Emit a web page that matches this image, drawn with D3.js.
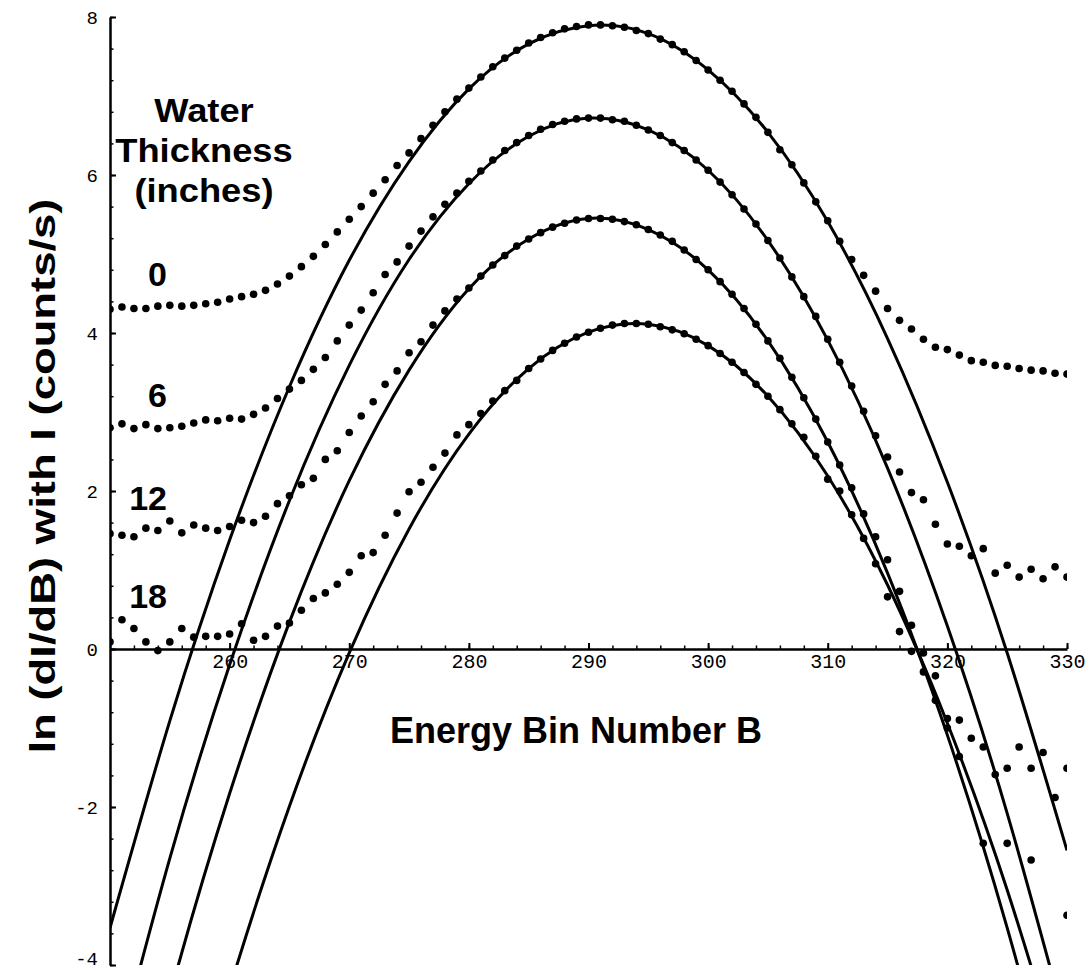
<!DOCTYPE html>
<html>
<head>
<meta charset="utf-8">
<script src="https://cdn.jsdelivr.net/npm/d3@7"></script>
<style>
  body { margin: 0; background: #fff; }
  svg { display: block; }
</style>
</head>
<body>
<svg id="chart"></svg>
<script>
// energy bins on the x axis
const bins = d3.range(250, 331);

// measured ln(dI/dB), one value per bin; null = no point shown
const water0 = [4.30,4.33,4.31,4.31,4.34,4.35,4.34,4.35,4.37,4.39,
  4.43,4.46,4.49,4.54,4.62,4.72,4.84,4.97,5.12,5.28,
  5.44,5.60,5.77,5.94,6.12,6.28,6.46,6.63,6.80,6.96,
  7.10,7.24,7.37,7.48,7.58,7.67,7.74,7.80,7.85,7.88,
  7.90,7.90,7.89,7.87,7.83,7.79,7.72,7.65,7.56,7.45,
  7.33,7.20,7.06,6.90,6.73,6.54,6.32,6.13,5.90,5.66,
  5.42,5.16,4.93,4.73,4.53,4.31,4.16,4.05,3.92,3.82,
  3.79,3.72,3.65,3.63,3.59,3.58,3.55,3.53,3.52,3.49,3.48];
const water6 = [2.80,2.85,2.79,2.84,2.79,2.80,2.82,2.86,2.90,2.89,
  2.92,2.91,2.97,3.05,3.17,3.29,3.40,3.54,3.69,3.90,
  4.10,4.29,4.51,4.74,4.90,5.10,5.29,5.47,5.63,5.77,
  5.92,6.05,6.19,6.31,6.41,6.50,6.58,6.64,6.68,6.71,
  6.72,6.72,6.70,6.68,6.63,6.57,6.50,6.41,6.31,6.19,
  6.06,5.91,5.75,5.57,5.38,5.17,4.95,4.71,4.46,4.21,
  3.92,3.63,3.33,3.01,2.70,2.43,2.24,1.98,1.89,1.58,
  1.33,1.30,1.18,1.27,0.96,1.06,0.91,1.01,0.89,1.04,0.91];
const water12 = [1.46,1.44,1.42,1.53,1.50,1.62,1.47,1.57,1.53,1.50,
  1.55,1.63,1.60,1.68,1.84,1.94,2.08,2.16,2.40,2.51,
  2.74,2.95,3.13,3.35,3.52,3.75,3.89,4.10,4.28,4.43,
  4.57,4.72,4.86,4.98,5.10,5.19,5.27,5.34,5.39,5.43,
  5.45,5.45,5.44,5.41,5.37,5.31,5.24,5.16,5.05,4.93,
  4.80,4.65,4.49,4.31,4.11,3.90,3.68,3.44,3.18,2.91,
  2.62,2.33,2.04,1.71,1.42,1.13,0.73,0.30,-0.05,-0.34,
  -0.88,-0.90,-1.13,-1.24,-1.59,-1.51,-1.24,-1.51,-1.31,-1.88,-1.51];
const water18 = [0.09,0.37,0.26,0.09,-0.02,0.09,0.26,0.15,0.16,0.16,
  0.19,0.32,0.11,0.16,0.29,0.33,0.49,0.64,0.71,0.82,
  0.97,1.18,1.22,1.44,1.72,1.99,2.11,2.30,2.48,2.71,
  2.84,2.98,3.14,3.27,3.40,3.55,3.67,3.78,3.87,3.95,
  4.01,4.06,4.10,4.12,4.12,4.11,4.08,4.04,3.99,3.92,
  3.84,3.74,3.63,3.50,3.35,3.20,3.03,2.85,2.68,2.44,
  2.15,2.00,1.70,1.40,1.08,0.66,0.22,-0.03,-0.29,-0.65,
  -1.00,-1.36,null,-2.46,null,-2.46,null,-2.67,null,null,-3.37];

// fitted curves, read every 5 bins
const fitBins = d3.range(250, 331, 5);
const fit0  = [-3.53,-0.91,1.38,3.32,4.92,6.17,7.09,7.66,7.89,7.79,7.33,6.54,5.41,3.93,2.11,-0.05,-2.55];
const fit6  = [-5.48,-2.65,-0.20,1.88,3.59,4.93,5.89,6.49,6.72,6.57,6.06,5.17,3.91,2.29,0.29,-2.08,-4.82];
const fit12 = [-7.32,-4.39,-1.83,0.34,2.13,3.53,4.56,5.19,5.45,5.31,4.80,3.90,2.62,0.96,-1.09,-3.53,-6.34];
const fit18 = [-10.01,-6.97,-4.30,-1.99,-0.05,1.52,2.72,3.55,4.01,4.11,3.84,3.20,2.19,0.81,-0.94,-3.05,-5.53];

const thickness = ["0", "6", "12", "18"];
const xTicks = [260, 270, 280, 290, 300, 310, 320, 330];
const yTicks = [-4, -2, 0, 2, 4, 6, 8];

const svgWidth = 1089, svgHeight = 972;

const svg = d3.select('#chart')
    .attr("width", svgWidth)
    .attr("height", svgHeight);

var x = d3.scaleLinear()
    .domain([250, 330])
    .range([110, 1067]);

var y = d3.scaleLinear()
    .domain([-4, 8])
    .range([965, 17]);

svg.append("clipPath").attr("id", "plotclip")
  .append("rect")
    .attr("x", x(250)).attr("y", y(8))
    .attr("width", x(330) - x(250)).attr("height", y(-4) - y(8));

// fitted curves
var line = d3.line()
    .x(d => x(d[0]))
    .y(d => y(d[1]))
    .curve(d3.curveNatural);

var fits = [fit0, fit6, fit12, fit18];
svg.append("g")
    .attr("clip-path", "url(#plotclip)")
  .selectAll("path")
  .data(fits)
  .enter()
  .append("path")
    .attr("d", f => line(fitBins.map((b, i) => [b, f[i]])))
    .attr("fill", "none")
    .attr("stroke", "#000")
    .attr("stroke-width", 3);

// measured points
var series = [water0, water6, water12, water18];
var pts = [];
series.forEach(function(s) {
  s.forEach(function(v, i) { if (v !== null) pts.push([bins[i], v]); });
});

svg.append("g")
    .attr("clip-path", "url(#plotclip)")
  .selectAll("circle")
  .data(pts)
  .enter()
  .append("circle")
    .attr("cx", d => x(d[0]))
    .attr("cy", d => y(d[1]))
    .attr("r", 3.8)
    .attr("fill", "#000");

// y axis (ticks point into the plot)
var yAxis = svg.append("g")
    .attr("transform", "translate(" + x(250) + ",0)")
    .call(d3.axisLeft(y).tickValues(yTicks).tickSize(-6).tickSizeOuter(0).tickPadding(12)
      .tickFormat(d => d < 0 ? "-" + Math.abs(d) : d));
yAxis.select(".domain").attr("stroke-width", 2.5);
yAxis.selectAll(".tick line").attr("stroke-width", 2);
yAxis.selectAll("text")
    .attr("font-family", "'Liberation Mono', 'DejaVu Sans Mono', monospace")
    .attr("font-size", 19)
    .attr("fill", "#000")
    .attr("dy", d => d === -4 ? "-0.05em" : "0.32em");

svg.append("g")
    .attr("transform", "translate(" + x(250) + ",0)")
    .call(d3.axisLeft(y).tickValues(d3.range(-4, 8.01, 0.4)).tickSize(-3.5).tickFormat(""))
    .call(g => g.select(".domain").remove())
    .selectAll(".tick line").attr("stroke-width", 1.5);

// x axis along ln = 0
var xAxis = svg.append("g")
    .attr("transform", "translate(0," + y(0) + ")")
    .call(d3.axisBottom(x).tickValues(xTicks).tickSize(-6).tickSizeOuter(0).tickPadding(5));
xAxis.select(".domain").attr("stroke-width", 2.5);
xAxis.selectAll(".tick line").attr("stroke-width", 2);
xAxis.selectAll("text")
    .attr("font-family", "'Liberation Mono', 'DejaVu Sans Mono', monospace")
    .attr("font-size", 20)
    .attr("fill", "#000");

svg.append("g")
    .attr("transform", "translate(0," + y(0) + ")")
    .call(d3.axisBottom(x).tickValues(d3.range(252, 331, 2)).tickSize(-3.5).tickFormat(""))
    .call(g => g.select(".domain").remove())
    .selectAll(".tick line").attr("stroke-width", 1.5);

// axis titles
svg.append("text")
    .attr("x", 576)
    .attr("y", 743)
    .attr("text-anchor", "middle")
    .attr("font-family", "'Liberation Sans', Arial, sans-serif")
    .attr("font-weight", "bold")
    .attr("font-size", 36)
    .text("Energy Bin Number B");

svg.append("text")
    .attr("transform", "translate(55,476) rotate(-90)")
    .attr("text-anchor", "middle")
    .attr("font-family", "'Liberation Sans', Arial, sans-serif")
    .attr("font-weight", "bold")
    .attr("font-size", 35)
    .attr("textLength", 555)
    .attr("lengthAdjust", "spacingAndGlyphs")
    .text("ln (dI/dB) with I (counts/s)");

// legend title
var legendLines = ["Water", "Thickness", "(inches)"];
svg.selectAll("legendtitle")
  .data(legendLines)
  .enter()
  .append("text")
    .attr("transform", (d, i) => "translate(204," + (122 + i * 40) + ") scale(1.1,1)")
    .attr("text-anchor", "middle")
    .attr("font-family", "'Liberation Sans', Arial, sans-serif")
    .attr("font-weight", "bold")
    .attr("font-size", 33)
    .text(d => d);

// thickness labels
var labelY = [286, 407, 510, 608];
svg.selectAll("thicklabels")
  .data(thickness)
  .enter()
  .append("text")
    .attr("x", 167)
    .attr("y", (d, i) => labelY[i])
    .attr("text-anchor", "end")
    .attr("font-family", "'Liberation Sans', Arial, sans-serif")
    .attr("font-weight", "bold")
    .attr("font-size", 34)
    .text(d => d);
</script>
</body>
</html>
